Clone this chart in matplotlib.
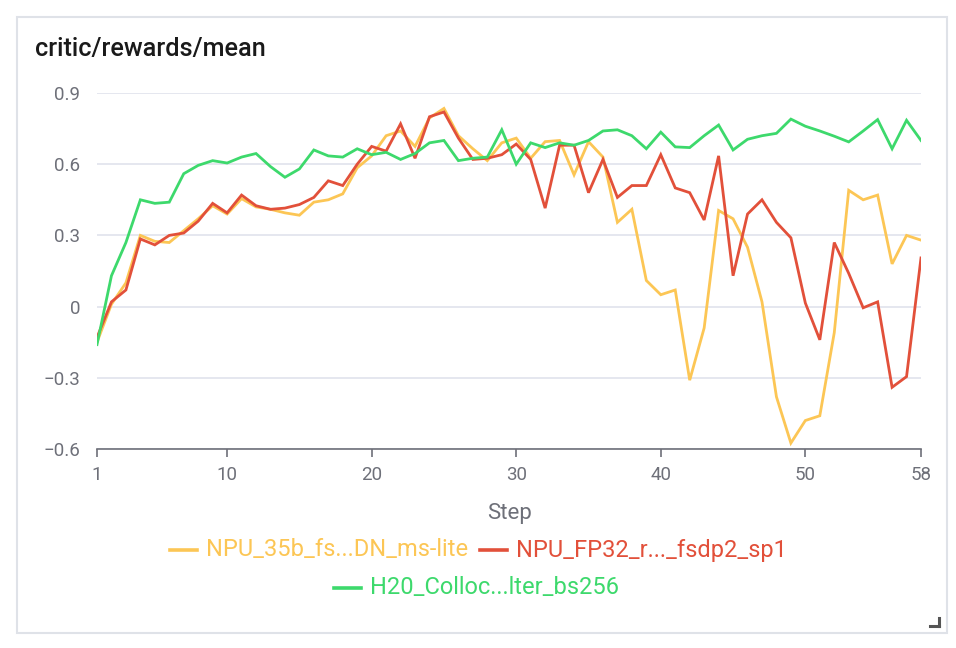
import matplotlib
matplotlib.use("Agg")
import matplotlib.pyplot as plt
from matplotlib.lines import Line2D
from matplotlib.patches import Rectangle

plt.rcParams['font.family'] = ['Roboto', 'DejaVu Sans']

steps = list(range(1, 59))

npu_35b = [-0.15, 0.01, 0.10, 0.30, 0.275, 0.27, 0.32, 0.37, 0.425, 0.39,
           0.455, 0.42, 0.41, 0.395, 0.385, 0.44, 0.45, 0.475, 0.585, 0.635,
           0.72, 0.74, 0.675, 0.795, 0.835, 0.72, 0.665, 0.615, 0.69, 0.71,
           0.625, 0.695, 0.70, 0.555, 0.695, 0.63, 0.355, 0.41, 0.11, 0.05,
           0.07, -0.31, -0.09, 0.405, 0.37, 0.25, 0.02, -0.38, -0.575, -0.48,
           -0.46, -0.11, 0.49, 0.45, 0.47, 0.18, 0.30, 0.28]

npu_fp32 = [-0.13, 0.02, 0.07, 0.285, 0.26, 0.30, 0.31, 0.36, 0.435, 0.395,
            0.47, 0.425, 0.41, 0.415, 0.43, 0.46, 0.53, 0.51, 0.60, 0.675,
            0.655, 0.77, 0.625, 0.80, 0.82, 0.71, 0.62, 0.625, 0.64, 0.685,
            0.62, 0.415, 0.68, 0.68, 0.48, 0.62, 0.46, 0.51, 0.51, 0.64,
            0.50, 0.48, 0.365, 0.635, 0.13, 0.39, 0.45, 0.355, 0.29, 0.015,
            -0.14, 0.27, 0.14, -0.005, 0.02, -0.34, -0.295, 0.205]

h20 = [-0.16, 0.13, 0.27, 0.45, 0.435, 0.44, 0.56, 0.595, 0.615, 0.605,
       0.63, 0.645, 0.59, 0.545, 0.58, 0.66, 0.635, 0.63, 0.665, 0.64,
       0.65, 0.62, 0.645, 0.69, 0.70, 0.615, 0.625, 0.63, 0.745, 0.60,
       0.69, 0.67, 0.69, 0.68, 0.70, 0.74, 0.745, 0.72, 0.665, 0.735,
       0.673, 0.67, 0.72, 0.765, 0.66, 0.705, 0.72, 0.73, 0.79, 0.76,
       0.74, 0.718, 0.694, 0.74, 0.788, 0.665, 0.785, 0.70]

series_labels = ["NPU_35b_fs...DN_ms-lite", "NPU_FP32_r..._fsdp2_sp1", "H20_Colloc...lter_bs256"]
colors = ["#FCC655", "#E2503A", "#3DD96C"]

x_ticks = [1, 10, 20, 30, 40, 50, 58]
y_ticks = [-0.6, -0.3, 0, 0.3, 0.6, 0.9]
y_tick_labels = ["\u22120.6", "\u22120.3", "0", "0.3", "0.6", "0.9"]

W, H = 956, 648
fig = plt.figure(figsize=(W / 100, H / 100), dpi=100)

# card border
fig.add_artist(Rectangle((17 / W, 1 - 633 / H), 930 / W, 616 / H,
                         transform=fig.transFigure, fill=False,
                         edgecolor="#dfe2e8", linewidth=1.5))
# resize handle
fig.add_artist(Line2D([930 / W, 939 / W], [1 - 626 / H, 1 - 626 / H],
                      transform=fig.transFigure, color="#555555", lw=2.2))
fig.add_artist(Line2D([939 / W, 939 / W], [1 - 626 / H, 1 - 618 / H],
                      transform=fig.transFigure, color="#555555", lw=2.2))

left, right, top, bottom = 97, 921, 93, 449
ax = fig.add_axes([left / W, 1 - bottom / H, (right - left) / W, (bottom - top) / H])

for vals, c, lab in zip([npu_35b, npu_fp32, h20], colors, series_labels):
    ax.plot(steps, vals, color=c, lw=2.0, label=lab, solid_joinstyle='miter')

ax.set_xlim(1, 58)
ax.set_ylim(-0.6, 0.9)
ax.set_xticks(x_ticks)
ax.set_xticklabels([str(t) for t in x_ticks])
ax.set_yticks(y_ticks)
ax.set_yticklabels(y_tick_labels)
ax.grid(axis='y', color="#e0e3ec", lw=1.2)
ax.set_axisbelow(True)
for s in ['top', 'right', 'left']:
    ax.spines[s].set_visible(False)
ax.spines['bottom'].set_color("#6e7079")
ax.spines['bottom'].set_linewidth(1.2)
ax.tick_params(axis='x', direction='out', length=6, width=1.2, color="#6e7079",
               labelcolor="#6e7079", labelsize=13.5, pad=6)
ax.tick_params(axis='y', length=0, labelcolor="#6e7079", labelsize=13.5, pad=12)
ax.set_xlabel("Step", color="#6e7079", fontsize=16, labelpad=14)

fig.text(35 / W, 1 - 49 / H, "critic/rewards/mean", fontsize=18.2, fontweight='medium',
         color="#1a1a1a", va='center', ha='left')

# legend
def leg_item(x0, y, color, label):
    fig.add_artist(Line2D([x0 / W, (x0 + 27) / W], [1 - y / H, 1 - y / H],
                          transform=fig.transFigure, color=color, lw=2.6))
    fig.text((x0 + 36) / W, 1 - y / H, label, color=color, fontsize=17,
             va='center', ha='left')

leg_item(170, 550, colors[0], series_labels[0])
leg_item(480, 550, colors[1], series_labels[1])
leg_item(334, 588, colors[2], series_labels[2])

fig.savefig("out.png", dpi=100)
